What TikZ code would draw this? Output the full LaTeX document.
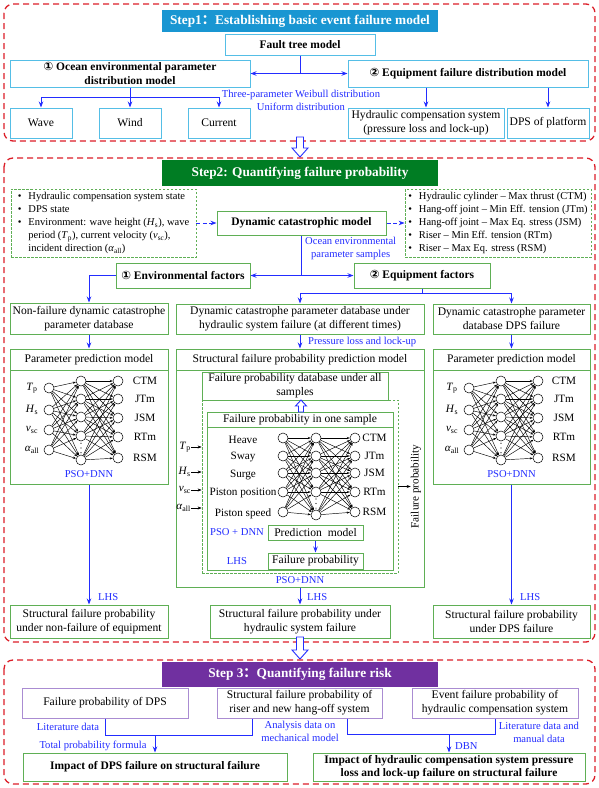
\documentclass[tikz,border=0pt]{standalone}
\usepackage{fontspec}
\setmainfont{Liberation Serif}
\newfontfamily\djv{DejaVu Sans}
\newfontfamily\cjkf{Noto Sans CJK SC}
\usetikzlibrary{arrows.meta,calc}
\definecolor{rd}{RGB}{220,30,40}
\definecolor{bl}{RGB}{35,45,255}
\definecolor{lb}{RGB}{85,190,230}
\definecolor{gr}{RGB}{95,175,85}
\definecolor{pu}{RGB}{170,140,210}
\definecolor{t1}{RGB}{25,150,210}
\definecolor{t2}{RGB}{0,125,35}
\definecolor{t3}{RGB}{112,48,160}
\newcommand{\vr}[2]{\textit{#1}\textsubscript{#2}}
\newcommand{\bx}[7]{\node[#1, minimum width={(#5)-(#3)}, minimum height={(#6)-(#4)}] (#2) at ({((#3)+(#5))/2},{((#4)+(#6))/2}) {#7};}
\newcommand{\harrow}[6]{\filldraw[draw=bl,fill=white,line width=0.9pt] ({#1-#4},#2) -- ({#1+#4},#2) -- ({#1+#4},#6) -- ({#1+#5},#6) -- (#1,#3) -- ({#1-#5},#6) -- ({#1-#4},#6) -- cycle;}
\newcommand{\nnet}[8]{%
  \foreach \yy [count=\i] in {#5} \node[neuron] (#1i\i) at (#2,\yy) {};
  \foreach \yy [count=\i] in {#6} \node[neuron] (#1h\i) at (#3,\yy) {};
  \foreach \yy [count=\i] in {#7} \node[neuron] (#1o\i) at (#4,\yy) {};
  \foreach \a in {1,...,#8} \foreach \b in {1,...,5} \draw[nnl] (#1i\a) -- (#1h\b);
  \foreach \a in {1,...,5} \foreach \b in {1,...,5} \draw[nnl] (#1h\a) -- (#1o\b);
  \foreach \p in {0.3,0.5,0.7} \fill ($(#1h4)!\p!(#1h5)$) circle (0.6);
}
\begin{document}
\begin{tikzpicture}[x=1pt,y=-1pt,
 stepframe/.style={draw=rd,line width=1.3pt,dash pattern=on 6pt off 4pt,rounded corners=9pt},
 ttl/.style={text=white,font=\fontsize{13.3}{15}\selectfont\bfseries,inner sep=0pt},
 nrm/.style={font=\fontsize{11.6}{14}\selectfont},
 lst/.style={font=\fontsize{10.5}{13}\selectfont},
 bfs/.style={font=\fontsize{11.5}{13.5}\selectfont\bfseries},
 lbox/.style={draw=lb,line width=1pt,fill=white,align=center,inner sep=1pt,nrm},
 gbox/.style={draw=gr,line width=1pt,fill=white,align=center,inner sep=1pt,nrm},
 pbox/.style={draw=pu,line width=1pt,fill=white,align=center,inner sep=1pt,nrm},
 gdash/.style={draw=gr,line width=0.8pt,dash pattern=on 2.5pt off 1.5pt,inner sep=0pt,lst},
 arr/.style={draw=bl,line width=0.9pt,-{Stealth[length=6pt,width=4.5pt]}},
 bline/.style={draw=bl,line width=0.9pt},
 darr/.style={arr,dash pattern=on 4pt off 2.5pt},
 lbl/.style={text=bl,font=\fontsize{10.6}{13}\selectfont,align=center,inner sep=0pt},
 neuron/.style={circle,draw,line width=0.5pt,minimum size=10pt,inner sep=0pt,fill=white},
 nnl/.style={line width=0.45pt,-{Stealth[length=3pt,width=2.2pt]}},
 karr/.style={line width=0.6pt,-{Stealth[length=4pt,width=3pt]}},
 txt/.style={font=\fontsize{11.2}{13}\selectfont,inner sep=0pt}
]
\useasboundingbox (0,0) rectangle (599,788);
\fill[white] (0,0) rectangle (599,788);

% ---------------- Step 1
\draw[stepframe] (4,4) rectangle (595,141);
\bx{ttl,fill=t1}{title1}{162}{10}{438}{32}{Step1{\cjkf ：}Establishing basic event failure model}
\bx{lbox,bfs}{fault}{225}{34}{375}{55}{Fault tree model}
\bx{lbox,bfs}{ocean}{10}{60}{250}{87}{{\djv ①} Ocean environmental parameter\\distribution model}
\bx{lbox,bfs}{equip}{348}{60}{588}{87}{{\djv ②} Equipment failure distribution model}
\bx{lbox}{wave}{10}{108}{72}{138}{Wave}
\bx{lbox}{wind}{99}{108}{161}{138}{Wind}
\bx{lbox}{current}{188}{108}{250}{138}{Current}
\bx{lbox}{hydr}{348}{108}{504}{138}{Hydraulic compensation system\\(pressure loss and lock-up)}
\bx{lbox}{dpsp}{507}{108}{589}{138}{DPS of platform}
\draw[arr] (fault.south) |- (ocean.east);
\draw[arr] (fault.south) |- (equip.west);
\coordinate (oj) at (130,97);
\draw[bline] (ocean.south) -- (oj);
\draw[arr] (oj) -| (wave.north);
\draw[arr] (oj) -- (wind.north);
\draw[arr] (oj) -| (current.north);
\draw[arr] (equip.south -| hydr.north) -- (hydr.north);
\draw[arr] (equip.south -| dpsp.north) -- (dpsp.north);
\node[lbl] (distl) at (301,100) {Three-parameter Weibull distribution\\Uniform distribution};

\harrow{300}{137}{157}{3.5}{8}{148}

% ---------------- Step 2
\draw[stepframe] (4,158) rectangle (595,642);
\bx{ttl,fill=t2}{title2}{162}{160}{438}{186}{Step2: Quantifying failure probability}
\bx{gdash}{inl}{11}{189}{196}{257}{\begin{tabular}{@{}l@{\hspace{7pt}}l@{}}
\textbullet & Hydraulic compensation system state\\
\textbullet & DPS state\\
\textbullet & Environment: wave height (\vr{H}{s}), wave\\
 & period (\vr{T}{p}), current velocity (\vr{v}{sc}),\\
 & incident direction (\vr{α}{all})
\end{tabular}}
\bx{gbox,bfs}{dyn}{217}{211}{386}{235}{Dynamic catastrophic model}
\bx{gdash}{outl}{405}{189}{591}{257}{\begin{tabular}{@{}l@{\hspace{7pt}}l@{}}
\textbullet & Hydraulic cylinder – Max thrust (CTM)\\
\textbullet & Hang-off joint – Min Eff. tension (JTm)\\
\textbullet & Hang-off joint – Max Eq. stress (JSM)\\
\textbullet & Riser – Min Eff. tension (RTm)\\
\textbullet & Riser – Max Eq. stress (RSM)
\end{tabular}}
\draw[darr] (inl.east) -- (dyn.west);
\draw[darr] (dyn.east) -- (outl.west);
\bx{gbox,bfs}{env}{116}{263}{250}{288}{{\djv ①} Environmental factors}
\bx{gbox,bfs}{eqf}{354}{263}{490}{288}{{\djv ②} Equipment factors}
\coordinate (ej) at (dyn.south |- env.east);
\draw[bline] (dyn.south) -- (ej);
\draw[arr] (ej) -- (env.east);
\draw[arr] (ej) -- (eqf.west);
\node[lbl,anchor=west] at (305,248) {Ocean environmental\\parameter samples};

% left column
\bx{gbox}{nf}{10}{303}{168}{334}{Non-failure dynamic catastrophe\\parameter database}
\bx{gbox}{ppLh}{10}{349}{168}{370}{Parameter prediction model}
\bx{gbox}{ppL}{10}{370}{168}{484}{}
\draw[arr] (env.west) -| (nf.north);
\draw[arr] (nf.south) -- (ppLh.north);
\nnet{L}{49}{81}{118}{388,410,430,450}{381,399,417,436,460}{381,399,418,437,458}{4}
\foreach \t [count=\i] in {CTM,JTm,JSM,RTm,RSM} \node[txt] at ($(Lo\i)+(27,0)$) {\t};
\foreach \t [count=\i] in {{\vr{T}{p}},{\vr{H}{s}},{\vr{v}{sc}},{\vr{α}{all}}} \node[txt] at ($(Li\i)+(-17,0)$) {\t};
\node[lbl] at (89,474) {PSO+DNN};
\bx{gbox}{sfL}{10}{605}{168}{638}{Structural failure probability\\under non-failure of equipment}
\draw[arr] (ppL.south) -- (sfL.north);
\node[lbl,anchor=west] at (98,597) {LHS};

% middle column
\bx{gbox}{dbH}{176}{304}{424}{334}{Dynamic catastrophe parameter database under\\hydraulic system failure (at different times)}
\bx{gbox}{dbD}{433}{304}{590}{334}{Dynamic catastrophe parameter\\database DPS failure}
\coordinate (eqj) at ($(eqf.south)+(0,5)$);
\draw[bline] (eqf.south) -- (eqj);
\draw[arr] (eqj) -| (dbH.north);
\draw[arr] (eqj) -| (dbD.north);
\bx{gbox}{spmh}{176}{349}{424}{370}{Structural failure probability prediction model}
\bx{gbox}{spm}{176}{370}{424}{587}{}
\draw[arr] (dbH.south) -- (spmh.north);
\node[lbl,anchor=west] at (308,342) {Pressure loss and lock-up};
\bx{gdash}{innerd}{202}{400}{398}{573}{}
\bx{gbox}{fpdb}{202}{372}{388}{400}{Failure probability database under all\\samples}
\bx{gbox}{oneh}{207}{412}{393}{427}{Failure probability in one sample}
\bx{gbox}{one}{207}{427}{393}{570}{}
\harrow{301}{412}{400}{2.5}{5.5}{406}
\nnet{M}{283}{316}{355}{438,456,473,492,512}{438,456,473,492,515}{438,456,473,492,512}{5}
\foreach \t [count=\i] in {CTM,JTm,JSM,RTm,RSM} \node[txt] at ($(Mo\i)+(19.5,0)$) {\t};
\foreach \t/\yy in {Heave/440,Sway/457,Surge/475,Piston position/493,Piston speed/514} \node[txt] at (243,\yy) {\t};
\foreach \t/\yy [count=\i] in {{\vr{T}{p}}/447,{\vr{H}{s}}/472,{\vr{v}{sc}}/490,{\vr{α}{all}}/508} {
  \node[txt,anchor=east] (in\i) at (191,\yy) {\t};
  \draw[karr] (in\i.east) -- (in\i.east -| innerd.west);
}
\node[txt,rotate=90] (fpv) at (416,486.5) {Failure probability};
\draw[karr] (innerd.east) -- (fpv.north);
\node[lbl] at (237,532) {PSO + DNN};
\bx{gbox}{pm}{268}{525}{363}{540}{Prediction\ \ model}
\bx{gbox}{fp}{268}{553}{363}{569}{Failure probability}
\draw[arr] (pm.south) -- (fp.north);
\node[lbl] at (237,561) {LHS};
\node[lbl] at (300,580) {PSO+DNN};
\bx{gbox}{sfM}{210}{605}{390}{638}{Structural failure probability under\\hydraulic system failure}
\draw[arr] (spm.south) -- (sfM.north);
\node[lbl,anchor=west] at (307,597) {LHS};

% right column
\bx{gbox}{ppRh}{433}{349}{590}{370}{Parameter prediction model}
\bx{gbox}{ppR}{433}{370}{590}{484}{}
\draw[arr] (dbD.south) -- (ppRh.north);
\nnet{R}{469}{501}{538}{388,410,430,450}{381,399,417,436,460}{381,399,418,437,458}{4}
\foreach \t [count=\i] in {CTM,JTm,JSM,RTm,RSM} \node[txt] at ($(Ro\i)+(26,0)$) {\t};
\foreach \t [count=\i] in {{\vr{T}{p}},{\vr{H}{s}},{\vr{v}{sc}},{\vr{α}{all}}} \node[txt] at ($(Ri\i)+(-17,0)$) {\t};
\node[lbl] at (511.5,474) {PSO+DNN};
\bx{gbox}{sfR}{433}{605}{590}{638}{Structural failure probability\\under DPS failure}
\draw[arr] (ppR.south) -- (sfR.north);
\node[lbl,anchor=west] at (520,597) {LHS};

\harrow{300}{637}{659}{3.5}{8}{650}

% ---------------- Step 3
\draw[stepframe] (4,660) rectangle (595,784);
\bx{ttl,fill=t3}{title3}{162}{662}{438}{687}{Step 3{\cjkf ：}Quantifying failure risk}
\bx{pbox}{pDPS}{22}{688}{188}{718}{Failure probability of DPS}
\bx{pbox}{pStr}{217}{688}{382}{718}{Structural failure probability of\\riser and new hang-off system}
\bx{pbox}{pEv}{412}{688}{578}{718}{Event failure probability of\\hydraulic compensation system}
\bx{gbox,bfs}{impL}{23}{753}{287}{781}{Impact of DPS failure on structural failure}
\bx{gbox,bfs}{impR}{313}{753}{585}{781}{Impact of hydraulic compensation system pressure\\loss and lock-up failure on structural failure}
\coordinate (jL) at ($(impL.north)+(0,-17)$);
\draw[bline] (pDPS.south) |- (jL) -| ([xshift=-47.5pt]pStr.south);
\draw[arr] (jL) -- (impL.north);
\coordinate (jR) at ($(impR.north)+(0,-18)$);
\draw[bline] ([xshift=47.5pt]pStr.south) |- (jR) -| (pEv.south);
\draw[arr] (jR) -- (impR.north);
\node[lbl] at (68,727) {Literature data};
\node[lbl] at (93,746) {Total probability formula};
\node[lbl] at (300,731) {Analysis data on\\mechanical model};
\node[lbl,anchor=west] at (455,746) {DBN};
\node[lbl] at (539,732) {Literature data and\\manual data};
\end{tikzpicture}
\end{document}
